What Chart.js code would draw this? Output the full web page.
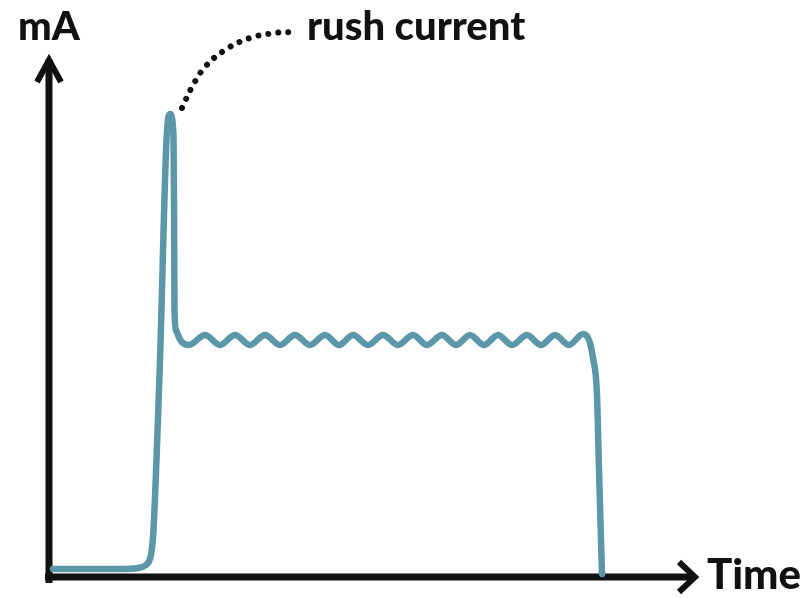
<!DOCTYPE html>
<html>
<head>
<meta charset="utf-8">
<script src="https://cdn.jsdelivr.net/npm/chart.js@4/dist/chart.umd.min.js"></script>
<style>
  html, body { margin: 0; padding: 0; background: #fff; }
  canvas { display: block; }
</style>
</head>
<body>
<canvas id="c" width="800" height="598"></canvas>
<script>
// Time (arbitrary units) and current (mA, arbitrary units)
const timeValues = [4, 71, 89, 97, 101, 103, 104.5, 111, 117.5, 121, 124.5, 125, 125.5, 127, 132, 140,
  156, 171, 186, 201, 216, 231, 246, 261, 276, 290, 304, 319, 334, 349, 364, 378, 393, 407, 421, 435, 449, 463, 478, 492, 506, 520, 534,
  540, 544, 548, 550, 552, 553];
const currentValues = [8, 8, 9, 12, 18, 29, 47, 217, 437, 463, 442, 377, 267, 247, 236, 232,
  242, 232, 242, 232, 242, 232, 242, 232, 242, 232, 242, 232, 242, 232, 242, 232, 242, 232, 242, 232, 242, 232, 242, 232, 242, 232, 243,
  237, 219, 182, 107, 37, 3];
// dotted leader from the peak to the label
const leaderTime = [133, 143, 156, 176, 201, 226, 244];
const leaderCurrent = [469, 490, 510, 527, 539, 544, 545];
const axisLabels = { y: 'mA', x: 'Time', note: 'rush current' };

const xMax = 650, yMax = 522;
const teal = '#5b97a9';
const ink = '#111111';

const axesPlugin = {
  id: 'axesArrows',
  beforeDatasetsDraw(chart) {
    const ctx = chart.ctx;
    const xs = chart.scales.x, ys = chart.scales.y;
    const x0 = xs.getPixelForValue(0), y0 = ys.getPixelForValue(0);
    const xTip = xs.getPixelForValue(648), yTip = ys.getPixelForValue(520);
    ctx.save();
    ctx.strokeStyle = ink;
    ctx.lineWidth = 7;
    ctx.lineCap = 'butt';
    ctx.beginPath();
    ctx.moveTo(x0, y0 + 6);
    ctx.lineTo(x0, yTip + 2);
    ctx.moveTo(x0 - 4, y0);
    ctx.lineTo(xTip - 2, y0);
    ctx.stroke();
    ctx.lineWidth = 6;
    ctx.lineJoin = 'miter';
    ctx.beginPath();
    ctx.moveTo(x0 - 12, yTip + 25);
    ctx.lineTo(x0, yTip + 3);
    ctx.lineTo(x0 + 12, yTip + 25);
    ctx.moveTo(xTip - 18, y0 - 15);
    ctx.lineTo(xTip - 2, y0);
    ctx.lineTo(xTip - 18, y0 + 15);
    ctx.stroke();
    ctx.restore();
  },
  afterDraw(chart) {
    const ctx = chart.ctx;
    ctx.save();
    ctx.fillStyle = ink;
    ctx.textBaseline = 'alphabetic';
    ctx.textAlign = 'left';
    ctx.font = '900 40px Lato';
    ctx.fillText(axisLabels.y, 18, 40);
    ctx.fillText(axisLabels.note, 307, 40);
    ctx.font = '900 42px Lato';
    ctx.fillText(axisLabels.x, 707, 589);
    ctx.restore();
  }
};

new Chart(document.getElementById('c'), {
  type: 'line',
  data: {
    datasets: [
      {
        data: timeValues.map((t, i) => ({ x: t, y: currentValues[i] })),
        borderColor: teal,
        borderWidth: 6.5,
        pointRadius: 0,
        cubicInterpolationMode: 'monotone',
        borderCapStyle: 'round',
        borderJoinStyle: 'round',
        clip: false
      },
      {
        data: leaderTime.map((t, i) => ({ x: t, y: leaderCurrent[i] })),
        borderColor: ink,
        borderWidth: 6,
        borderDash: [0.01, 10],
        borderCapStyle: 'round',
        pointRadius: 0,
        tension: 0.4,
        clip: false
      }
    ]
  },
  options: {
    responsive: false,
    animation: false,
    events: [],
    layout: { padding: { left: 49, right: 101, top: 55, bottom: 21 } },
    plugins: { legend: { display: false }, tooltip: { enabled: false } },
    scales: {
      x: { type: 'linear', min: 0, max: xMax, display: false },
      y: { type: 'linear', min: 0, max: yMax, display: false }
    }
  },
  plugins: [axesPlugin]
});
</script>
</body>
</html>
